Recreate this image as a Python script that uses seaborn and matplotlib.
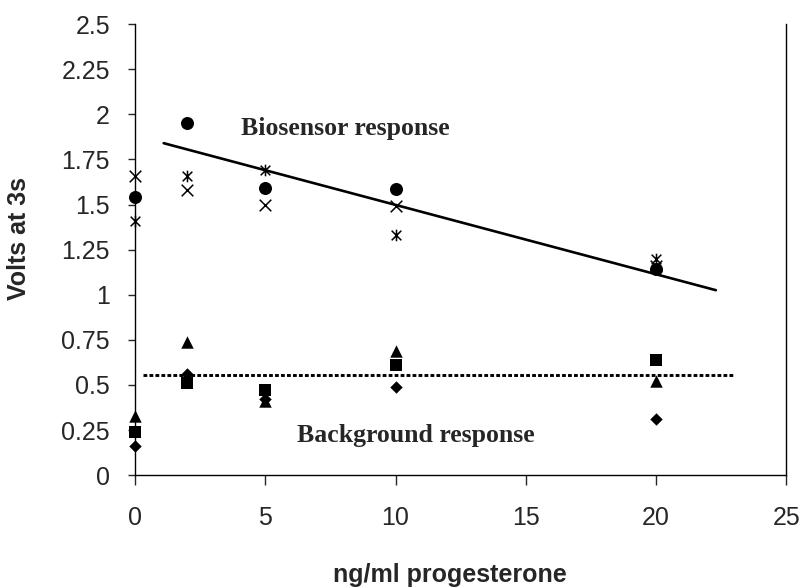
import matplotlib
matplotlib.use("Agg")
import matplotlib.pyplot as plt
from matplotlib.path import Path
import pandas as pd
import seaborn as sns

# progesterone concentrations (ng/ml)
doses = [0, 2, 5, 10, 20]

# biosensor electrodes
bio_circle = [1.54, 1.95, 1.59, 1.585, 1.14]
bio_cross = [1.66, 1.58, 1.50, 1.49, 1.16]
bio_star = [1.41, 1.66, 1.69, 1.33, 1.20]

# background electrodes
bg_triangle = [0.33, 0.74, 0.41, 0.69, 0.52]
bg_square = [0.24, 0.51, 0.47, 0.61, 0.64]
bg_diamond = [0.16, 0.56, 0.42, 0.49, 0.31]

# hand drawn trend lines
trend_x = [1.1, 22.3]
trend_y = [1.84, 1.025]
bg_line_x = [0.3, 23.0]
bg_line_y = [0.555, 0.555]

y_ticks = [0, 0.25, 0.5, 0.75, 1, 1.25, 1.5, 1.75, 2, 2.25, 2.5]
y_labels = ['0', '0.25', '0.5', '0.75', '1', '1.25', '1.5', '1.75', '2', '2.25', '2.5']
x_ticks = [0, 5, 10, 15, 20, 25]

df = pd.DataFrame({
    'dose': doses * 6,
    'volts': bio_circle + bio_cross + bio_star + bg_triangle + bg_square + bg_diamond,
    'series': ['circle'] * 5 + ['cross'] * 5 + ['star'] * 5
              + ['triangle'] * 5 + ['square'] * 5 + ['diamond'] * 5,
})

sns.set_style("ticks")
plt.rcParams['font.family'] = ['Liberation Sans', 'DejaVu Sans']

# asterisk = X with a vertical bar
star = Path([(-1, -1), (1, 1), (-1, 1), (1, -1), (0, -1.2), (0, 1.2)],
            [Path.MOVETO, Path.LINETO, Path.MOVETO, Path.LINETO, Path.MOVETO, Path.LINETO])

styles = {
    'circle': dict(marker='o', s=88, linewidth=0, edgecolor='black'),
    'cross': dict(marker='x', s=70, linewidth=1.1),
    'star': dict(marker=star, s=70, linewidth=1.1, edgecolor='black'),
    'triangle': dict(marker='^', s=80, linewidth=0, edgecolor='black'),
    'square': dict(marker='s', s=80, linewidth=0, edgecolor='black'),
    'diamond': dict(marker='D', s=40, linewidth=0, edgecolor='black'),
}

fig, ax = plt.subplots(figsize=(7.99, 5.88), dpi=100)
fig.subplots_adjust(left=0.169, right=0.984, top=0.959, bottom=0.192)

for name, kw in styles.items():
    sub = df[df['series'] == name]
    sns.scatterplot(data=sub, x='dose', y='volts', color='black', ax=ax,
                    clip_on=False, zorder=3, legend=False, **kw)

sns.lineplot(x=trend_x, y=trend_y, color='black', linewidth=1.9, ax=ax)
sns.lineplot(x=bg_line_x, y=bg_line_y, color='black', linewidth=2.1, ax=ax,
             linestyle=(0, (1.3, 0.75)), dash_capstyle='butt')

ax.text(4.05, 1.885, 'Biosensor response', family=['Liberation Serif', 'DejaVu Serif'],
        fontweight='bold', fontsize=18.5)
ax.text(6.22, 0.185, 'Background response', family=['Liberation Serif', 'DejaVu Serif'],
        fontweight='bold', fontsize=18.5)

ax.set_xlim(0, 25)
ax.set_ylim(0, 2.5)
ax.set_xticks(x_ticks)
ax.set_yticks(y_ticks)
ax.set_yticklabels(y_labels)
ax.tick_params(axis='x', labelsize=18, length=7, width=1, pad=15, direction='out')
ax.tick_params(axis='y', labelsize=18, length=5, width=1, pad=13, direction='out')

ax.set_xlabel('ng/ml progesterone', fontsize=18, fontweight='bold')
ax.set_ylabel('Volts at 3s', fontsize=18, fontweight='bold')
ax.xaxis.set_label_coords(0.483, -0.195)
ax.yaxis.set_label_coords(-0.16, 0.525)

for side in ['left', 'bottom', 'right']:
    ax.spines[side].set_color('black')
    ax.spines[side].set_linewidth(1)
ax.spines['top'].set_visible(False)

fig.savefig('out.png', dpi=100)
